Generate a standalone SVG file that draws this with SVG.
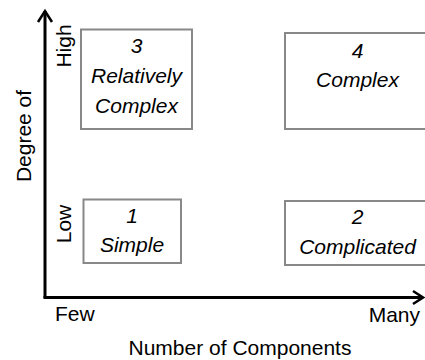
<svg xmlns="http://www.w3.org/2000/svg" width="425" height="360" viewBox="0 0 425 360">
<style>
text{font-family:"Liberation Sans",Arial,sans-serif;font-size:21px;fill:#000}
.it{font-style:italic;text-anchor:middle}
.box{fill:#fff;stroke:#888;stroke-width:2}
.axis{fill:none;stroke:#000;stroke-width:3}
.head{fill:none;stroke:#000;stroke-width:2.5;stroke-linejoin:miter}
</style>
<rect width="425" height="360" fill="#fff"/>
<g id="connectors">
<line class="axis" x1="45" y1="298" x2="45" y2="11"/>
<polyline class="head" points="38,22 45,11 52,22"/>
<line class="axis" x1="43.5" y1="297.5" x2="423" y2="297.5"/>
<polyline class="head" points="413,291 423,297.5 413,304"/>
</g>
<g id="labels">
<text transform="translate(31,136) rotate(-90)" text-anchor="middle">Degree of</text>
<text transform="translate(71,46) rotate(-90)" text-anchor="middle">High</text>
<text transform="translate(71,224) rotate(-90)" text-anchor="middle">Low</text>
<text x="55" y="321">Few</text>
<text x="420" y="322" text-anchor="end">Many</text>
<text x="240" y="355" text-anchor="middle">Number of Components</text>
</g>
<g id="node3">
<rect class="box" x="81" y="29.5" width="111" height="99.5"/>
<text class="it" x="136.5" y="53">3</text>
<text class="it" x="136.5" y="83">Relatively</text>
<text class="it" x="136.5" y="113">Complex</text>
</g>
<g id="node4">
<rect class="box" x="285" y="33" width="146" height="96"/>
<text class="it" x="357.5" y="58">4</text>
<text class="it" x="357.5" y="87">Complex</text>
</g>
<g id="node1">
<rect class="box" x="83.5" y="199.5" width="97.5" height="63.5"/>
<text class="it" x="132" y="223">1</text>
<text class="it" x="132" y="252">Simple</text>
</g>
<g id="node2">
<rect class="box" x="285" y="201" width="146" height="64"/>
<text class="it" x="357.5" y="224">2</text>
<text class="it" x="357.5" y="254">Complicated</text>
</g>
</svg>
